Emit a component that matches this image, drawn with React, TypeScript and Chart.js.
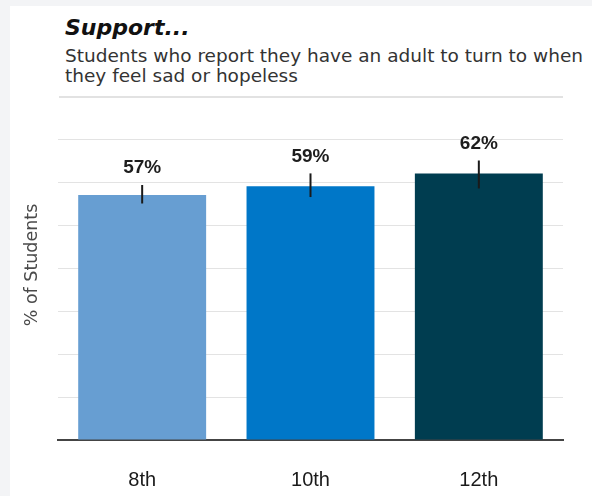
import React, { useEffect, useRef } from 'react';
import { Chart, registerables } from 'chart.js';

Chart.register(...registerables);

const categories = ['8th', '10th', '12th'];
const values = [57, 59, 62];
const errLow = [55, 56.5, 58.5];
const errHigh = [59.3, 62, 65];
const valueLabels = ['57%', '59%', '62%'];
const barColors = ['#679ed2', '#0077c8', '#003d50'];
const yMax = 70;
const yStep = 10;
const titleText = 'Support...';
const subtitleLines = [
  'Students who report they have an adult to turn to when',
  'they feel sad or hopeless',
];
const yAxisTitle = '% of Students';

const overlayPlugin = {
  id: 'overlay',
  afterDatasetsDraw(chart: any) {
    const { ctx, chartArea } = chart;
    const y = chart.scales.y;
    const meta = chart.getDatasetMeta(0);
    ctx.save();
    meta.data.forEach((bar: any, i: number) => {
      const cx = bar.x;
      const yTop = y.getPixelForValue(errHigh[i]);
      const yBot = y.getPixelForValue(errLow[i]);
      ctx.strokeStyle = '#1a1a1a';
      ctx.lineWidth = 2;
      ctx.beginPath();
      ctx.moveTo(cx, yTop);
      ctx.lineTo(cx, yBot);
      ctx.stroke();
      ctx.font = 'bold 19px "Liberation Sans", Arial, sans-serif';
      ctx.fillStyle = '#1e1e1e';
      ctx.textAlign = 'center';
      ctx.textBaseline = 'middle';
      ctx.fillText(valueLabels[i], cx, yTop - 17);
    });
    ctx.translate(chartArea.left - 26, chartArea.top + 126);
    ctx.rotate(-Math.PI / 2);
    ctx.font = '17.5px "DejaVu Sans", Verdana, sans-serif';
    ctx.fillStyle = '#4a4a4a';
    ctx.textAlign = 'center';
    ctx.textBaseline = 'middle';
    ctx.fillText(yAxisTitle, 0, 0);
    ctx.restore();
  },
};

export default function App() {
  const ref = useRef<HTMLCanvasElement | null>(null);
  useEffect(() => {
    if (!ref.current) return;
    const chart = new Chart(ref.current, {
      type: 'bar',
      data: {
        labels: categories,
        datasets: [
          {
            data: values,
            backgroundColor: barColors,
            borderWidth: 0,
            barPercentage: 0.76,
            categoryPercentage: 1,
          },
        ],
      },
      options: {
        responsive: false,
        animation: false,
        devicePixelRatio: 1,
        layout: { padding: { left: 58, right: 29, top: 139, bottom: 0 } },
        plugins: { legend: { display: false }, tooltip: { enabled: false } },
        scales: {
          x: {
            grid: { display: false },
            border: { display: true, color: '#444', width: 2 },
            ticks: {
              color: '#1a1a1a',
              padding: 20,
              font: { family: '"Liberation Sans", Arial, sans-serif', size: 20 },
            },
            afterFit: (s: any) => {
              s.height = 56;
            },
          },
          y: {
            min: 0,
            max: yMax,
            ticks: { display: false, stepSize: yStep },
            grid: {
              drawTicks: false,
              color: (c: any) => (c.tick && c.tick.value === 0 ? 'rgba(0,0,0,0)' : '#e3e3e3'),
              lineWidth: 1,
            },
            border: { display: false },
            afterFit: (s: any) => {
              s.width = 0;
            },
          },
        },
      },
      plugins: [overlayPlugin],
    });
    return () => chart.destroy();
  }, []);

  return (
    <div style={{ position: 'fixed', left: 0, top: 0, width: 592, height: 496, background: '#f3f4f6', overflow: 'hidden' }}>
      <div style={{ position: 'absolute', left: 10, top: 6, right: 0, bottom: 0, background: '#ffffff' }} />
      <div
        style={{
          position: 'absolute',
          left: 65,
          top: 17.4,
          font: 'italic bold 22px "DejaVu Sans", Verdana, sans-serif',
          lineHeight: '22px',
          color: '#111',
          whiteSpace: 'nowrap',
        }}
      >
        {titleText}
      </div>
      <div
        style={{
          position: 'absolute',
          left: 65,
          top: 45.8,
          font: '18.5px "DejaVu Sans", Verdana, sans-serif',
          lineHeight: '20px',
          color: '#333',
          whiteSpace: 'nowrap',
        }}
      >
        {subtitleLines.map((l, i) => (
          <div key={i}>{l}</div>
        ))}
      </div>
      <div style={{ position: 'absolute', left: 59, top: 96, width: 504, height: 2, background: '#e2e2e2' }} />
      <canvas ref={ref} width={592} height={496} style={{ position: 'absolute', left: 0, top: 0, width: 592, height: 496 }} />
    </div>
  );
}
